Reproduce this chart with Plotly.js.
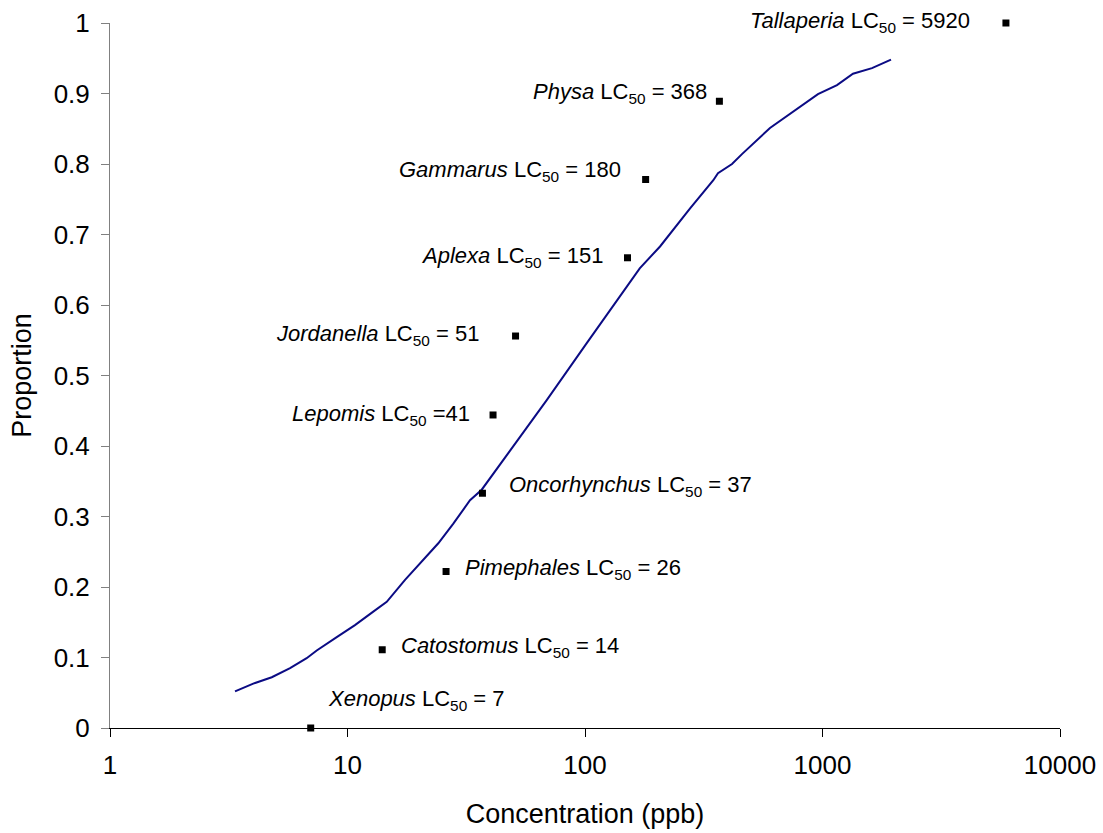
<!DOCTYPE html>
<html>
<head>
<meta charset="utf-8">
<script src="https://cdn.plot.ly/plotly-3.0.1.min.js"></script>
<style>html,body{margin:0;padding:0;background:#fff;}#chart{width:1103px;height:833px;}</style>
</head>
<body>
<div id="chart"></div>
<script>
// ---- data ----
const species = ["Xenopus","Catostomus","Pimephales","Oncorhynchus","Lepomis","Jordanella","Aplexa","Gammarus","Physa","Tallaperia"];
const lc50 = [7, 14, 26, 37, 41, 51, 151, 180, 368, 5920];
const proportion = [0, 0.111, 0.222, 0.333, 0.444, 0.556, 0.667, 0.778, 0.889, 1.0];
const lcEquals = [" = ", " = ", " = ", " = ", " =", " = ", " = ", " = ", " = ", " = "];

const curveX = [3.36,4.01,4.80,5.73,6.73,7.42,9.01,10.75,12.84,14.63,17.47,20.53,24.12,27.90,32.80,36.74,49.9,69.0,101.7,145,170,207,277,347,363,416,458,601,781,957,1151,1344,1616,1943];
const curveY = [0.052,0.063,0.072,0.085,0.099,0.110,0.129,0.146,0.165,0.179,0.210,0.236,0.262,0.290,0.323,0.338,0.399,0.465,0.546,0.619,0.652,0.683,0.737,0.777,0.787,0.800,0.814,0.851,0.878,0.899,0.912,0.928,0.936,0.948];

const xTickVals = [1, 10, 100, 1000, 10000];
const xTickText = ["1", "10", "100", "1000", "10000"];
const yTickVals = [0, 0.1, 0.2, 0.3, 0.4, 0.5, 0.6, 0.7, 0.8, 0.9, 1];
const yTickText = ["0", "0.1", "0.2", "0.3", "0.4", "0.5", "0.6", "0.7", "0.8", "0.9", "1"];

// ---- label placement (styling only) ----
const labelSide = ["right","right","right","right","left","left","left","left","left","left"];
const labelDx = [15, 17, 17, 25, 21, 35, 23, 23, 10, 34];
const labelDy = [28, 3, 2, 7, 0, 1, 1, 9, 8, 1];

const FONT = "Liberation Sans, Arial, Helvetica, sans-serif";

const traces = [
  {
    x: curveX, y: curveY, type: "scatter", mode: "lines",
    line: {color: "#0b0b84", width: 2},
    hoverinfo: "skip", showlegend: false
  },
  {
    x: lc50, y: proportion, type: "scatter", mode: "markers",
    marker: {symbol: "square", size: 7, color: "#000"},
    cliponaxis: false, showlegend: false
  }
];

const annotations = species.map((s, i) => ({
  x: Math.log10(lc50[i]), y: proportion[i], xref: "x", yref: "y",
  text: "<i>" + s + "</i> LC<sub>50</sub>" + lcEquals[i] + lc50[i],
  showarrow: false,
  xanchor: labelSide[i] === "right" ? "left" : "right",
  yanchor: "middle",
  xshift: labelSide[i] === "right" ? labelDx[i] : -labelDx[i],
  yshift: labelDy[i],
  font: {family: FONT, size: 22, color: "#000"}
}));

const layout = {
  width: 1103, height: 833,
  margin: {l: 110, r: 43, t: 23, b: 105, pad: 0},
  paper_bgcolor: "#fff", plot_bgcolor: "#fff",
  font: {family: FONT, color: "#000"},
  showlegend: false,
  xaxis: {
    type: "log", range: [0, 4],
    tickvals: xTickVals, ticktext: xTickText,
    ticks: "outside", ticklen: 8, tickwidth: 1, tickcolor: "#000",
    showline: true, linecolor: "#000", linewidth: 1,
    showgrid: false, zeroline: false,
    tickfont: {family: FONT, size: 26, color: "#000"},
    ticklabelstandoff: 6,
    title: {text: "Concentration (ppb)", font: {family: FONT, size: 27, color: "#000"}, standoff: 24}
  },
  yaxis: {
    range: [0, 1],
    tickvals: yTickVals, ticktext: yTickText,
    ticks: "outside", ticklen: 8, tickwidth: 1, tickcolor: "#808080",
    showline: true, linecolor: "#808080", linewidth: 1,
    showgrid: false, zeroline: false,
    tickfont: {family: FONT, size: 26, color: "#000"},
    ticklabelstandoff: 6,
    title: {text: "Proportion", font: {family: FONT, size: 27, color: "#000"}, standoff: 14}
  },
  annotations: annotations
};

Plotly.newPlot("chart", traces, layout, {displayModeBar: false, staticPlot: true});
</script>
</body>
</html>
